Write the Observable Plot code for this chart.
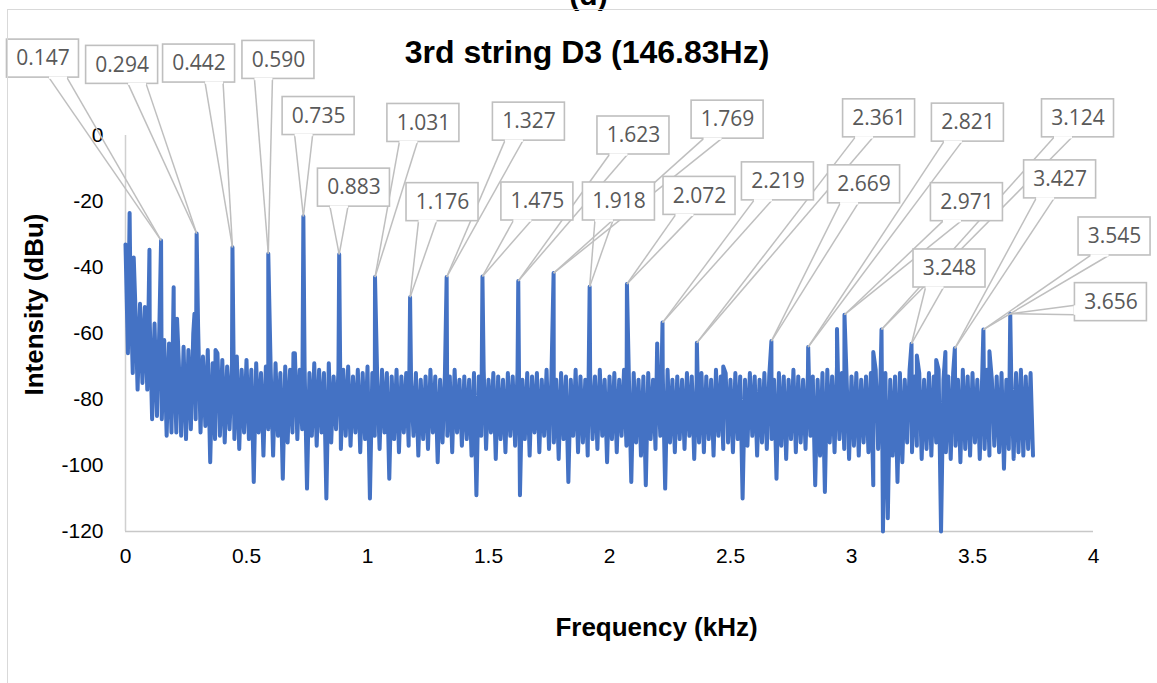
<!DOCTYPE html>
<html><head><meta charset="utf-8">
<script src="https://cdn.jsdelivr.net/npm/d3@7"></script>
<script src="https://cdn.jsdelivr.net/npm/@observablehq/plot@0.6"></script>
<style>
html,body{margin:0;padding:0;background:#fff;}
#chart{position:relative;width:1157px;height:683px;overflow:hidden;}
#border{position:absolute;left:7px;top:9px;width:1300px;height:900px;border-left:1.5px solid #d9d9d9;border-top:1.5px solid #d9d9d9;pointer-events:none;}
</style></head><body>
<div id="chart"></div>
<script>
// ---------------- DATA ----------------
const titleText = "3rd string D3 (146.83Hz)";
const panelTag = "(d)";
const xLabel = "Frequency (kHz)";
const yLabel = "Intensity (dBu)";
const xTicks = [0, 0.5, 1, 1.5, 2, 2.5, 3, 3.5, 4];
const yTicks = [0, -20, -40, -60, -80, -100, -120];

// spectrum noise floor, one value every 0.01 kHz starting at 0 kHz (dBu)
const noiseStepKHz = 0.01;
const noiseDb = [
 -33,-66,-44,-72,-50,-77,-51,-75,-52,-77,
 -56,-86,-57,-85,-58,-86,-62,-91,-63,-90,
 -64,-90,-68,-91,-64,-92,-65,-89,-60,-86,
 -58,-90,-67,-88,-65,-99,-69,-92,-66,-91,
 -68,-93,-70,-89,-69,-92,-67,-95,-71,-90,
 -68,-92,-71,-105,-69,-90,-72,-97,-70,-89,
 -71,-97,-69,-91,-72,-104,-70,-93,-71,-90,
 -66,-92,-71,-89,-70,-107,-72,-91,-69,-94,
 -71,-90,-72,-110,-69,-93,-73,-89,-71,-95,
 -71,-91,-70,-94,-73,-90,-71,-96,-72,-92,
 -70,-110,-72,-91,-73,-95,-71,-90,-72,-104,
 -73,-92,-71,-96,-73,-90,-72,-94,-74,-91,
 -72,-97,-74,-92,-73,-95,-71,-90,-73,-99,
 -74,-93,-72,-91,-73,-96,-71,-90,-74,-94,
 -73,-92,-74,-97,-72,-109,-73,-91,-71,-95,
 -74,-90,-72,-98,-73,-92,-74,-96,-72,-91,
 -73,-94,-71,-109,-74,-92,-72,-97,-73,-90,
 -72,-96,-74,-91,-71,-95,-73,-93,-74,-98,
 -72,-92,-73,-105,-74,-91,-71,-96,-73,-93,
 -74,-97,-72,-92,-73,-95,-71,-91,-74,-99,
 -73,-92,-72,-96,-74,-91,-71,-94,-73,-105,
 -72,-93,-74,-97,-73,-106,-72,-92,-74,-95,
 -73,-91,-72,-107,-71,-93,-74,-96,-73,-92,
 -74,-95,-72,-91,-73,-98,-74,-93,-72,-96,
 -73,-92,-74,-97,-71,-91,-73,-95,-72,-93,
 -74,-96,-72,-92,-73,-110,-74,-94,-72,-91,
 -73,-97,-74,-93,-72,-95,-73,-92,-74,-104,
 -72,-94,-73,-98,-74,-92,-71,-96,-73,-93,
 -74,-95,-72,-91,-73,-106,-74,-97,-72,-108,
 -71,-93,-73,-96,-70,-92,-72,-95,-74,-98,
 -73,-94,-72,-97,-74,-93,-73,-96,-72,-106,
 -71,-95,-73,-120,-72,-116,-74,-97,-73,-105,
 -72,-99,-74,-93,-71,-96,-73,-94,-72,-98,
 -74,-95,-72,-97,-73,-93,-71,-120,-74,-96,
 -73,-98,-72,-94,-74,-99,-71,-95,-73,-97,
 -72,-93,-74,-98,-73,-95,-71,-97,-74,-94,
 -73,-96,-72,-101,-74,-95,-73,-98,-72,-96,
 -71,-97,-73,-95,-72,-97
];

// labelled harmonic peaks
const harmonicKHz = [0.147, 0.294, 0.442, 0.590, 0.735, 0.883, 1.031, 1.176, 1.327, 1.475, 1.623, 1.769,
                     1.918, 2.072, 2.219, 2.361, 2.669, 2.821, 2.971, 3.124, 3.248, 3.427, 3.545, 3.656];
const harmonicDb  = [-31.8, -29.7, -33.9, -35.8, -24.5, -36.0, -42.9, -49.0, -42.9, -42.7, -44.1, -41.7,
                     -45.8, -45.0, -56.7, -62.8, -62.3, -64.1, -54.3, -58.8, -63.1, -64.5, -58.8, -54.0];

// other (unlabelled) spikes
const extraKHz = [0.017, 0.034, 0.099, 0.199, 0.213, 0.285, 0.372, 0.694, 2.197, 2.47, 2.94, 3.09, 3.27, 3.35, 3.388, 3.57];
const extraDb  = [-23.5, -37.0, -34.6, -46.0, -55.5, -54.0, -65.0, -66.0, -63.0, -70.0, -58.6, -65.6, -66.7, -68.0, -65.6, -65.4];

// ---------------- CALLOUT PLACEMENT (box centres, in axis units) ----------------
const calloutKHz = [-0.341, -0.014, 0.304, 0.632, 0.798, 0.944, 1.231, 1.310, 1.667, 1.702, 2.099, 2.488,
                    2.039, 2.372, 2.696, 3.114, 3.052, 3.481, 3.477, 3.936, 3.405, 3.862, 4.087, 4.072];
const calloutDb  = [23.3, 21.4, 21.8, 22.9, 5.9, -15.8, 3.8, -20.2, 4.2, -20.0, 0.0, 4.8,
                    -20.0, -18.3, -13.9, 5.2, -14.8, 3.9, -20.2, 5.2, -40.3, -13.3, -30.6, -50.5];

// ---------------- LAYOUT ----------------
const W = 1157, H = 683, ML = 125, MR = 64, MT = 135, MB = 152;
const X0 = 0, X1 = 4, Y0 = -120, Y1 = 0;
const pxPerX = (W - ML - MR) / (X1 - X0);
const pxPerY = (H - MT - MB) / (Y1 - Y0);
const toPxX = v => ML + (v - X0) * pxPerX;
const toPxY = v => MT + (Y1 - v) * pxPerY;
const fromPxX = p => X0 + (p - ML) / pxPerX;
const fromPxY = p => Y1 - (p - MT) / pxPerY;
const BOX_W = 72, BOX_H = 38;

// spectrum series (noise floor + spikes), sorted by frequency
const series = [
  ...noiseDb.map((v, i) => ({f: +(i * noiseStepKHz).toFixed(3), db: v})),
  ...harmonicKHz.map((f, i) => ({f, db: harmonicDb[i]})),
  ...extraKHz.map((f, i) => ({f, db: extraDb[i]}))
].sort((a, b) => a.f - b.f);

// wedge callouts (Excel wedgeRectCallout geometry)
const fmt3 = d3.format(".3f");
const callouts = harmonicKHz.map((f, i) => {
  const tx = toPxX(f), ty = toPxY(harmonicDb[i]);
  const cx = toPxX(calloutKHz[i]), cy = toPxY(calloutDb[i]);
  const left = cx - BOX_W / 2, top = cy - BOX_H / 2;
  const dx = tx - cx, dy = ty - cy;
  let b1, b2;
  if (Math.abs(dy) / BOX_H >= Math.abs(dx) / BOX_W) {
    const yE = dy > 0 ? top + BOX_H : top;
    const g1 = dx > 0 ? 7 : 2, g2 = dx > 0 ? 10 : 5;
    b1 = [left + BOX_W * g1 / 12, yE]; b2 = [left + BOX_W * g2 / 12, yE];
  } else {
    const xE = dx > 0 ? left + BOX_W : left;
    const g1 = dy > 0 ? 7 : 2, g2 = dy > 0 ? 10 : 5;
    b1 = [xE, top + BOX_H * g1 / 12]; b2 = [xE, top + BOX_H * g2 / 12];
  }
  return {
    label: fmt3(f), tipX: f, tipY: harmonicDb[i],
    cx: calloutKHz[i], cy: calloutDb[i],
    l: fromPxX(left), r: fromPxX(left + BOX_W), t: fromPxY(top), b: fromPxY(top + BOX_H),
    b1x: fromPxX(b1[0]), b1y: fromPxY(b1[1]), b2x: fromPxX(b2[0]), b2y: fromPxY(b2[1])
  };
});
const wedgeSides = callouts.flatMap(c => [
  {x1: c.b1x, y1: c.b1y, x2: c.tipX, y2: c.tipY},
  {x1: c.b2x, y1: c.b2y, x2: c.tipX, y2: c.tipY}
]);

const GRAY = "#bfbfbf";
const plot = Plot.plot({
  width: W, height: H,
  marginLeft: ML, marginRight: MR, marginTop: MT, marginBottom: MB,
  style: {fontFamily: "'Liberation Sans', Arial, sans-serif", fontSize: "21px", color: "#000", background: "white"},
  x: {domain: [X0, X1], ticks: xTicks, tickSize: 0, tickPadding: 17, tickFormat: d => String(d), label: null},
  y: {domain: [Y0, Y1], ticks: yTicks, tickSize: 0, tickPadding: 22, tickFormat: d => String(d), label: null},
  marks: [
    Plot.ruleX([X0], {y1: Y0, y2: Y1, stroke: "#d0d0d0", strokeWidth: 1.5}),
    Plot.ruleY([Y0], {x1: X0, x2: X1, stroke: "#c8c8c8", strokeWidth: 1.5}),
    Plot.line(series, {x: "f", y: "db", stroke: "#4472C4", strokeWidth: 4, strokeLinejoin: "round", strokeLinecap: "round"}),
    Plot.link(wedgeSides, {x1: "x1", y1: "y1", x2: "x2", y2: "y2", stroke: GRAY, strokeWidth: 1.5}),
    Plot.rect(callouts, {x1: "l", x2: "r", y1: "b", y2: "t", fill: "white", stroke: GRAY, strokeWidth: 1.6}),
    Plot.link(callouts, {x1: "b1x", y1: "b1y", x2: "b2x", y2: "b2y", stroke: "white", strokeWidth: 2.4}),
    Plot.text(callouts, {x: "cx", y: "cy", text: "label", fontFamily: "'Open Sans', sans-serif", fontSize: 21, fill: "#595959"}),
    Plot.text([titleText], {text: d => d, frameAnchor: "top", textAnchor: "middle", lineAnchor: "middle", dx: -22.5, dy: -83, fontSize: 32, fontWeight: "bold", fill: "#000"}),
    Plot.text([panelTag], {text: d => d, frameAnchor: "top", textAnchor: "middle", lineAnchor: "bottom", dx: -21, dy: -131, fontSize: 30, fontWeight: "bold", fill: "#000"}),
    Plot.text([yLabel], {text: d => d, frameAnchor: "left", textAnchor: "middle", lineAnchor: "middle", dx: -91, dy: -29, rotate: -90, fontSize: 26, fontWeight: "bold", fill: "#000"}),
    Plot.text([xLabel], {text: d => d, frameAnchor: "bottom", textAnchor: "middle", lineAnchor: "middle", dx: 47, dy: 96, fontSize: 26, fontWeight: "bold", fill: "#000"})
  ]
});
const host = document.getElementById("chart");
host.appendChild(plot);
const border = document.createElement("div");
border.id = "border";
host.appendChild(border);
</script>
</body></html>
